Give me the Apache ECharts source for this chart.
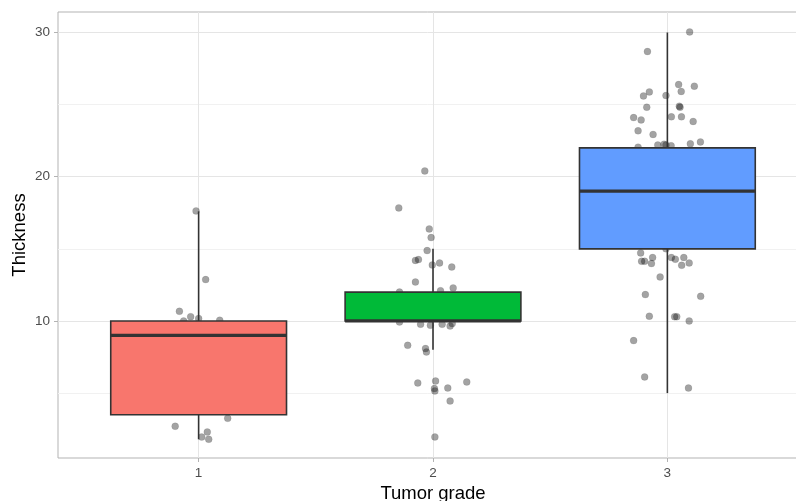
<!DOCTYPE html>
<html>
<head>
<meta charset="utf-8">
<script src="https://cdn.jsdelivr.net/npm/echarts@6/dist/echarts.min.js"></script>
<style>html,body{margin:0;padding:0;background:#fff}#c{width:796px;height:501px}</style>
</head>
<body>
<div id="c"></div>
<script>
// Categories and box statistics [min, Q1, median, Q3, max]
var grades = [1, 2, 3];
var boxColors = ['#F8766D', '#00BA38', '#619CFF'];
var boxStats1 = [1.8, 3.5, 9, 10, 17.6];
var boxStats2 = [8, 10, 10, 12, 15];
var boxStats3 = [5, 15, 19, 22, 30];

// Jittered points: x positions (grade + jitter) and thickness values
var pointX1 = [0.989, 1.03, 0.918, 0.966, 1.0, 1.09, 0.936, 1.124, 0.9, 1.037, 1.013, 1.043];
var pointY1 = [17.63, 12.87, 10.67, 10.3, 10.17, 10.05, 10.0, 3.25, 2.7, 2.3, 1.95, 1.8];

var pointX2 = [1.965, 1.854, 1.984, 1.992, 1.975, 1.925, 1.938, 1.997, 2.028, 2.08, 1.925, 2.086, 2.032, 1.857,
  1.857, 1.947, 1.989, 2.039, 2.073, 2.082, 1.892, 1.968, 1.972, 1.935, 2.011, 2.144, 2.006, 2.008, 2.063, 2.073, 2.008];
var pointY2 = [20.4, 17.84, 16.38, 15.78, 14.88, 14.2, 14.26, 13.88, 14.02, 13.74, 12.7, 12.29, 12.1, 12.0,
  9.93, 9.77, 9.7, 9.77, 9.65, 9.82, 8.31, 8.09, 7.85, 5.7, 5.84, 5.77, 5.31, 5.15, 5.35, 4.45, 1.96];

var pointX3 = [3.095, 2.915, 3.048, 3.115, 2.923, 2.898, 3.059, 2.994, 2.912, 3.051, 3.054, 2.856, 2.888, 3.017,
  3.06, 3.11, 2.875, 2.939, 3.098, 3.141, 2.959, 2.986, 2.994, 3.016, 2.875,
  2.886, 2.937, 2.89, 2.903, 2.932, 3.017, 3.034, 3.07, 3.061, 3.093, 2.969, 2.906, 3.142, 2.923, 3.031, 3.04,
  3.093, 2.856, 2.903, 3.09, 2.994];
var pointY3 = [30.04, 28.68, 26.39, 26.28, 25.88, 25.6, 25.91, 25.63, 24.82, 24.89, 24.82, 24.1, 23.94, 24.15,
  24.15, 23.83, 23.18, 22.93, 22.28, 22.41, 22.2, 22.25, 22.2, 22.15, 22.05,
  14.72, 14.4, 14.14, 14.14, 13.98, 14.4, 14.28, 14.4, 13.86, 14.02, 13.05, 11.83, 11.71, 10.33, 10.3, 10.3,
  10.0, 8.64, 6.12, 5.35, 15.0];

// Axis ticks
var xTicks = [1, 2, 3];
var yMajorTicks = [10, 20, 30];
var yMinorTicks = [5, 15, 25];

function pairs(xs, ys) { return xs.map(function (x, i) { return [x, ys[i]]; }); }
var points = pairs(pointX1, pointY1).concat(pairs(pointX2, pointY2), pairs(pointX3, pointY3));
var allStats = [boxStats1, boxStats2, boxStats3];
var boxData = grades.map(function (g, i) { return [g].concat(allStats[i]); });

var chart = echarts.init(document.getElementById('c'), null, { renderer: 'canvas' });
var font = 'Liberation Sans, Arial, sans-serif';
chart.setOption({
  animation: false,
  backgroundColor: '#ffffff',
  grid: {
    left: 58, right: -12, top: 12, bottom: 43,
    show: true, borderColor: '#b3b3b3', borderWidth: 1, backgroundColor: '#ffffff',
    outerBoundsMode: 'none', containLabel: false
  },
  xAxis: {
    type: 'value', min: 0.4, max: 3.6,
    name: 'Tumor grade', nameLocation: 'middle', nameGap: 26,
    nameTextStyle: { color: '#000', fontSize: 18.5, fontFamily: font },
    axisLine: { show: false },
    axisTick: { show: true, length: 4, customValues: xTicks, lineStyle: { color: '#b3b3b3' } },
    axisLabel: { customValues: xTicks, color: '#4d4d4d', fontSize: 13.5, fontFamily: font, margin: 8 },
    splitLine: { show: true, lineStyle: { color: '#e5e5e5', width: 1 } }
  },
  yAxis: [{
    type: 'value', min: 0.5, max: 31.42,
    name: 'Thickness', nameLocation: 'middle', nameGap: 29, nameRotate: 90, nameMoveOverlap: false,
    nameTextStyle: { color: '#000', fontSize: 18.5, fontFamily: font },
    axisLine: { show: false },
    axisTick: { show: true, length: 4, customValues: yMajorTicks, lineStyle: { color: '#b3b3b3' } },
    axisLabel: { customValues: yMajorTicks, color: '#4d4d4d', fontSize: 13.5, fontFamily: font, margin: 8 },
    splitLine: { show: true, lineStyle: { color: '#e5e5e5', width: 1 } }
  }, {
    type: 'value', min: 0.5, max: 31.42, position: 'left',
    axisLine: { show: false },
    axisTick: { show: false, customValues: yMinorTicks },
    axisLabel: { show: false, customValues: yMinorTicks },
    splitLine: { show: true, lineStyle: { color: '#f1f1f1', width: 1 } }
  }],
  series: [{
    type: 'scatter',
    z: 2,
    data: points,
    symbolSize: 7,
    itemStyle: { color: 'rgba(0,0,0,0.45)', borderColor: 'rgba(0,0,0,0.2)', borderWidth: 0.5 }
  }, {
    type: 'custom',
    z: 3,
    data: boxData,
    encode: { x: 0, y: [1, 2, 3, 4, 5] },
    renderItem: function (params, api) {
      var x = api.value(0);
      var mn = api.value(1), q1 = api.value(2), md = api.value(3), q3 = api.value(4), mx = api.value(5);
      var half = 0.375;
      var pTop = api.coord([x, mx]), pQ3 = api.coord([x, q3]), pQ1 = api.coord([x, q1]), pBot = api.coord([x, mn]);
      var lt = api.coord([x - half, q3]), rb = api.coord([x + half, q1]);
      var ml = api.coord([x - half, md]), mr = api.coord([x + half, md]);
      var stroke = '#333333';
      return {
        type: 'group',
        children: [
          { type: 'line', shape: { x1: pTop[0], y1: pTop[1], x2: pQ3[0], y2: pQ3[1] }, style: { stroke: stroke, lineWidth: 1.6 } },
          { type: 'line', shape: { x1: pQ1[0], y1: pQ1[1], x2: pBot[0], y2: pBot[1] }, style: { stroke: stroke, lineWidth: 1.6 } },
          { type: 'rect', shape: { x: lt[0], y: lt[1], width: rb[0] - lt[0], height: rb[1] - lt[1] },
            style: { fill: boxColors[params.dataIndex], stroke: stroke, lineWidth: 1.6 } },
          { type: 'line', shape: { x1: ml[0], y1: ml[1], x2: mr[0], y2: mr[1] }, style: { stroke: stroke, lineWidth: 3.2 } }
        ]
      };
    }
  }]
});
</script>
</body>
</html>
